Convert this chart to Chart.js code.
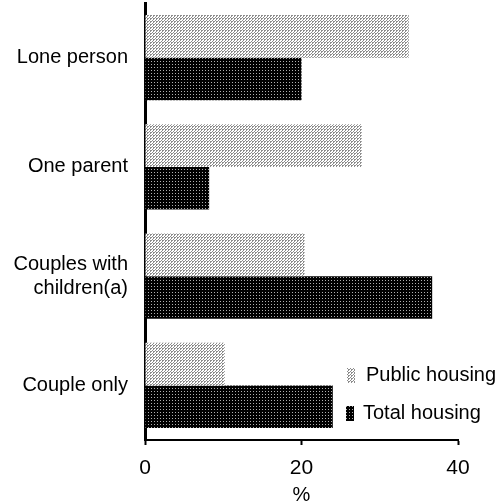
<!DOCTYPE html>
<html>
<head>
<meta charset="utf-8">
<script src="https://cdn.jsdelivr.net/npm/chart.js@4.4.1/dist/chart.umd.min.js"></script>
<style>
  html, body { margin: 0; padding: 0; background: #fff; }
  #wrap { width: 501px; height: 504px; }
</style>
</head>
<body>
<div id="wrap"><canvas id="chart"></canvas></div>
<script>
// Household types (top to bottom)
const categories = ['Lone person', 'One parent', ['Couples with', 'children(a)'], 'Couple only'];
const publicHousing = [33.7, 27.7, 20.4, 10.2];
const totalHousing = [20.0, 8.2, 36.7, 24.0];
const xTicks = [0, 20, 40];

// Stippled fills like the printed original
function makePattern(bg, fg, dots) {
    const c = document.createElement('canvas');
    c.width = 3; c.height = 3;
    const g = c.getContext('2d');
    g.fillStyle = bg;
    g.fillRect(0, 0, 3, 3);
    g.fillStyle = fg;
    dots.forEach(([x, y]) => g.fillRect(x, y, 1, 1));
    return g.createPattern(c, 'repeat');
}
const lightFill = makePattern('#ffffff', '#8c8c8c', [[0, 0], [1, 0], [0, 1], [2, 2]]);
const darkFill = makePattern('#000000', '#b0b0b0', [[1, 1]]);

const fontFamily = '"Liberation Sans", Arial, sans-serif';

// Legend sits inside the plot, bottom right
const legendPlugin = {
    id: 'insideLegend',
    afterDraw(chart) {
        const ctx = chart.ctx;
        const items = [
            { label: chart.data.datasets[0].label, fill: lightFill, x: 347, tx: 366, y: 375 },
            { label: chart.data.datasets[1].label, fill: darkFill, x: 346, tx: 363, y: 413 }
        ];
        ctx.save();
        ctx.font = '20px ' + fontFamily;
        ctx.textBaseline = 'middle';
        items.forEach(it => {
            ctx.fillStyle = it.fill;
            ctx.fillRect(it.x, it.y - 7, 8, 15);
            ctx.fillStyle = '#000';
            ctx.fillText(it.label, it.tx, it.y);
        });
        ctx.restore();
    }
};

new Chart(document.getElementById('chart'), {
    type: 'bar',
    data: {
        labels: categories,
        datasets: [
            { label: 'Public housing', data: publicHousing, backgroundColor: lightFill, borderWidth: 0 },
            { label: 'Total housing', data: totalHousing, backgroundColor: darkFill, borderWidth: 0 }
        ]
    },
    options: {
        indexAxis: 'y',
        responsive: true,
        maintainAspectRatio: false,
        animation: false,
        layout: { padding: { top: 3, right: 43, left: 0, bottom: 0 } },
        datasets: { bar: { categoryPercentage: 0.78, barPercentage: 1 } },
        scales: {
            x: {
                min: 0,
                max: 40,
                afterBuildTicks: (scale) => { scale.ticks = xTicks.map(v => ({ value: v })); },
                afterFit: (scale) => { scale.height = 64; },
                border: { display: true, color: '#000', width: 2 },
                grid: { drawOnChartArea: false, drawTicks: true, tickLength: 5, color: '#000', tickWidth: 2 },
                ticks: { color: '#000', font: { family: fontFamily, size: 21 }, padding: 11, maxRotation: 0 },
                title: { display: true, text: '%', color: '#000', font: { family: fontFamily, size: 20, lineHeight: 0.9 }, padding: 0 }
            },
            y: {
                afterFit: (scale) => {
                    scale.width = 145;
                    scale.paddingTop = 0;
                    scale.paddingBottom = 0;
                },
                border: { display: true, color: '#000', width: 3 },
                grid: { display: false, drawTicks: false },
                ticks: { color: '#000', font: { family: fontFamily, size: 20, lineHeight: 1.2 }, padding: 17 }
            }
        },
        plugins: {
            legend: { display: false },
            tooltip: { enabled: false }
        }
    },
    plugins: [legendPlugin]
});
</script>
</body>
</html>
